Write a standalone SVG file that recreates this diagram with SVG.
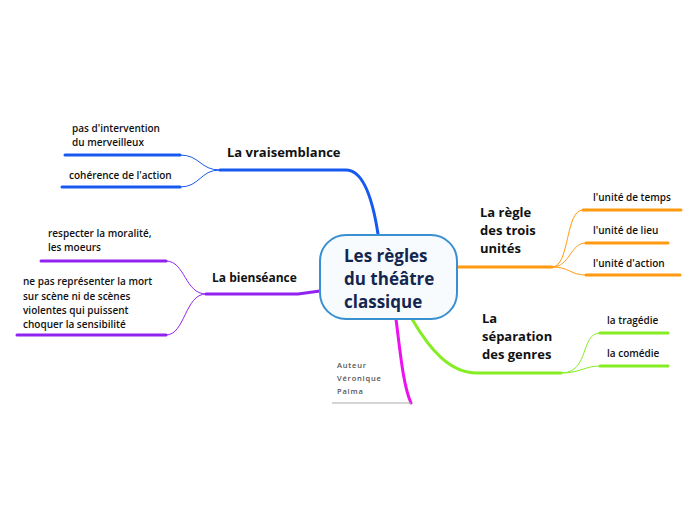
<svg xmlns="http://www.w3.org/2000/svg" width="696" height="520" viewBox="0 0 696 520">
<style>
text{font-family:"Open Sans","Noto Sans","Liberation Sans",sans-serif;font-weight:700;fill:#111}
.main{font-size:13px}
.sub{font-size:10px;font-weight:600}
.thick{fill:none;stroke-width:3;stroke-linecap:round}
.thin{fill:none;stroke-width:1}
.blue{stroke:#1658f0}.purple{stroke:#9122f0}.orange{stroke:#ff9a10}.green{stroke:#85ee22}.mag{stroke:#ee10ee}
</style>
<rect width="696" height="520" fill="#fff"/>
<g id="connectors">
<path class="thick blue" d="M220,170 H346 C362,170 372,195 378,234"/>
<path class="thin blue" d="M220,170 C200,170 200,155 180,155"/>
<path class="thin blue" d="M220,170 C200,170 200,187 180,187"/>
<path class="thick blue" d="M65,155 H180"/>
<path class="thick blue" d="M62,187 H180"/>
<path class="thick purple" d="M206,294 H298 L320,291"/>
<path class="thin purple" d="M206,294 C185,294 185,261 166,261"/>
<path class="thin purple" d="M206,294 C185,294 185,335 166,335"/>
<path class="thick purple" d="M41,261 H166"/>
<path class="thick purple" d="M17,335 H166"/>
<path class="thick orange" d="M457,267 L474,267 H552"/>
<path class="thin orange" d="M552,267 C570,267 565,210 583,210"/>
<path class="thin orange" d="M552,267 C570,267 570,243 586,243"/>
<path class="thin orange" d="M552,267 C570,267 570,275 586,275"/>
<path class="thick orange" d="M583,210 H681"/>
<path class="thick orange" d="M586,243 H668"/>
<path class="thick orange" d="M586,275 H680"/>
<path class="thick green" d="M412,319 C430,350 450,373 477,373 H561"/>
<path class="thin green" d="M561,373 C590,373 580,333 600,333"/>
<path class="thin green" d="M561,373 C580,373 585,366 600,366"/>
<path class="thick green" d="M600,333 H668"/>
<path class="thick green" d="M600,366 H668"/>
<path class="thick mag" d="M396,319 C400,350 403,385 411,403"/>
<path fill="none" stroke="#aaa" stroke-width="1" d="M332,403 H411"/>
</g>
<g id="central">
<rect x="320" y="235" width="137" height="84" rx="26" fill="#f7fbfd" stroke="#3a8fd0" stroke-width="2"/>
<text x="344" y="262" font-size="17" fill="#14264f" style="fill:#14264f">Les règles</text>
<text x="344" y="285" font-size="17" style="fill:#14264f">du théâtre</text>
<text x="344" y="308" font-size="17" style="fill:#14264f">classique</text>
</g>
<g id="vraisemblance"><text class="main" x="227" y="157">La vraisemblance</text></g>
<g id="merveilleux"><text class="sub" x="72" y="132">pas d'intervention</text><text class="sub" x="72" y="146">du merveilleux</text></g>
<g id="coherence"><text class="sub" x="69" y="179">cohérence de l'action</text></g>
<g id="bienseance"><text class="main" x="212" y="282" font-size="12" style="font-size:12px">La bienséance</text></g>
<g id="moralite"><text class="sub" x="48" y="237">respecter la moralité,</text><text class="sub" x="48" y="251">les moeurs</text></g>
<g id="mort"><text class="sub" x="23" y="285">ne pas représenter la mort</text><text class="sub" x="23" y="300">sur scène ni de scènes</text><text class="sub" x="23" y="314">violentes qui puissent</text><text class="sub" x="23" y="328">choquer la sensibilité</text></g>
<g id="trois-unites"><text class="main" x="480" y="217">La règle</text><text class="main" x="480" y="235">des trois</text><text class="main" x="480" y="253">unités</text></g>
<g id="temps"><text class="sub" x="593" y="201">l'unité de temps</text></g>
<g id="lieu"><text class="sub" x="593" y="234">l'unité de lieu</text></g>
<g id="action"><text class="sub" x="593" y="267">l'unité d'action</text></g>
<g id="genres"><text class="main" x="482" y="323">La</text><text class="main" x="482" y="341">séparation</text><text class="main" x="482" y="359">des genres</text></g>
<g id="tragedie"><text class="sub" x="607" y="324">la tragédie</text></g>
<g id="comedie"><text class="sub" x="607" y="357">la comédie</text></g>
<g id="auteur"><text x="337" y="368" style="font-size:7.5px;font-weight:600;fill:#555;letter-spacing:0.8px">Auteur</text><text x="337" y="381" style="font-size:7.5px;font-weight:600;fill:#555;letter-spacing:0.8px">Véronique</text><text x="337" y="394" style="font-size:7.5px;font-weight:600;fill:#555;letter-spacing:0.8px">Palma</text></g>
</svg>
